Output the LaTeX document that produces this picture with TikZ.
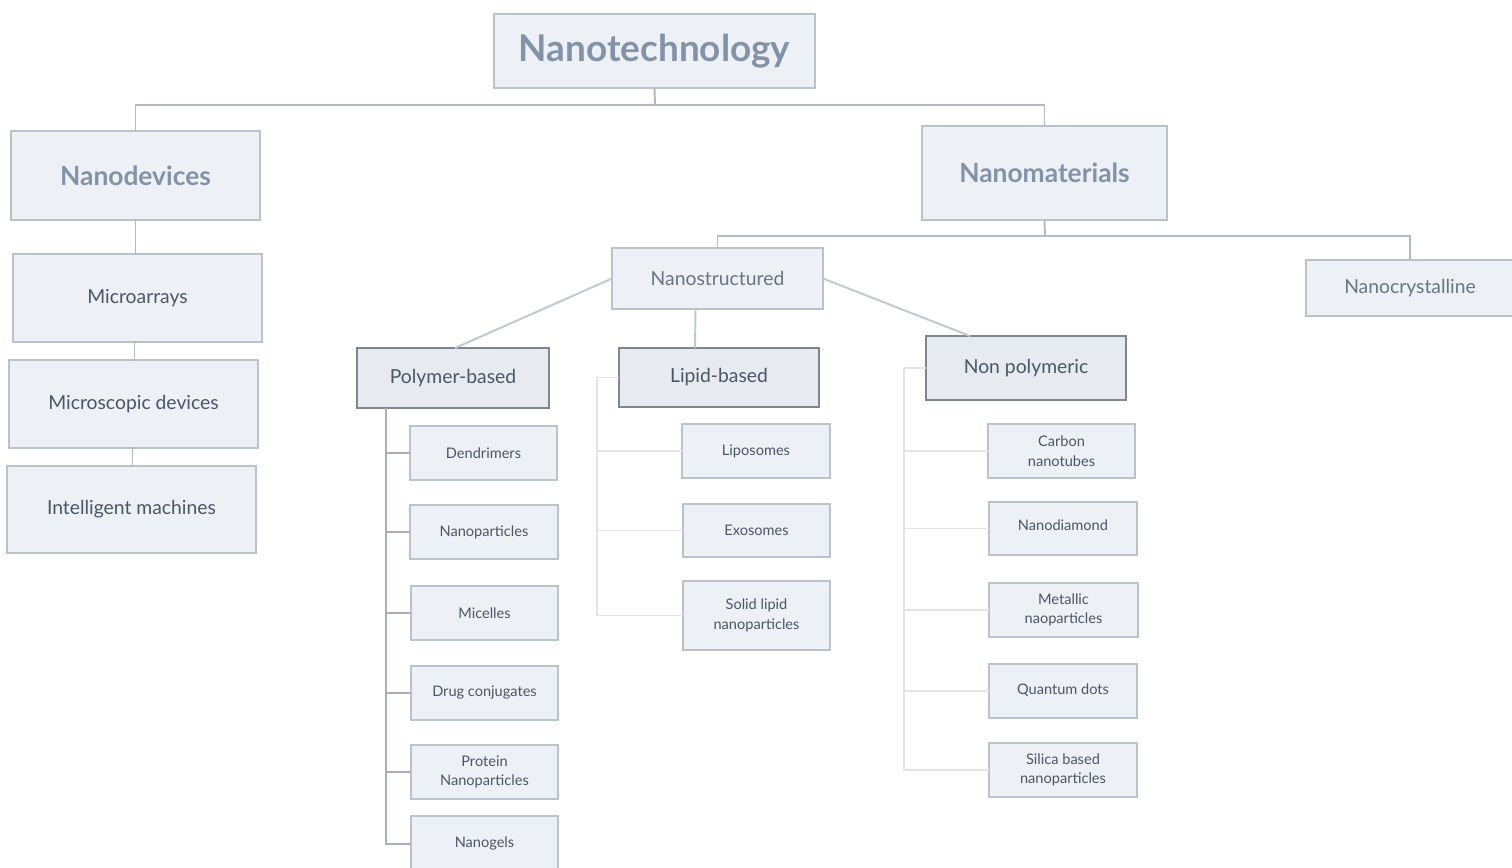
\documentclass[tikz,border=0pt]{standalone}
\usepackage{fontspec}
\setmainfont{Lato}
\definecolor{boxc}{HTML}{EDF0F4}
\definecolor{bordc}{HTML}{BCC2C9}
\definecolor{darkb}{HTML}{80868D}
\definecolor{darkfill}{HTML}{E7EAEE}
\definecolor{headc}{HTML}{8292A8}
\definecolor{txtc}{HTML}{4B5668}
\definecolor{lightt}{HTML}{6A7484}
\definecolor{linec}{HTML}{B2BAC2}
\definecolor{spinec}{HTML}{AAAFB5}
\definecolor{faintc}{HTML}{E2E4E6}
\begin{document}
\begin{tikzpicture}[x=0.02cm,y=-0.02cm,
  nbox/.style 2 args={draw=bordc, fill=boxc, line width=0.8pt,
    minimum width=#1*0.02cm, minimum height=#2*0.02cm, inner sep=0pt,
    outer sep=0pt, align=center, text=txtc},
  darkbox/.style={draw=darkb, fill=darkfill},
  headfont/.style={font=\fontsize{15}{18}\selectfont\bfseries, text=headc},
  midfont/.style={font=\fontsize{11}{13}\selectfont},
  smallfont/.style={font=\fontsize{8.3}{11.2}\selectfont},
  conn/.style={draw=linec, line width=1.1pt},
  spine/.style={draw=spinec, line width=0.9pt},
  faint/.style={draw=faintc, line width=0.8pt}]
\useasboundingbox[fill=white] (0,0) rectangle (1512,868);

% top level
\node[nbox={321}{74}, font=\fontsize{21}{25}\selectfont\bfseries, text=headc] (nt) at (654.5,51) {Nanotechnology};
\node[nbox={249}{89}, headfont] (nd) at (135.5,175.5) {Nanodevices};
\node[nbox={245}{94}, headfont] (nm) at (1044.5,173) {Nanomaterials};

% nanodevices
\node[nbox={249}{88}, midfont] (ma) at (137.5,298) {Microarrays};
\node[nbox={249}{88}, midfont] (md) at (133.5,404) {Microscopic devices};
\node[nbox={249}{87}, midfont] (im) at (131.5,509.5) {Intelligent machines};

% nanomaterials
\node[nbox={211}{61}, midfont, text=lightt] (ns) at (717.5,278.5) {Nanostructured};
\node[nbox={208}{56}, midfont, text=lightt] (nc) at (1410,288) {Nanocrystalline};

\node[nbox={192}{60}, darkbox, midfont] (pb) at (453,378) {Polymer-based};
\node[nbox={200}{59}, darkbox, midfont] (lb) at (719,377.5) {Lipid-based};
\node[nbox={200}{64}, darkbox, midfont] (np) at (1026,368) {Non polymeric};

% polymer children
\node[nbox={147}{54}, smallfont] (dn) at (483.5,453) {Dendrimers};
\node[nbox={148}{54}, smallfont] (npc) at (484,532) {Nanoparticles};
\node[nbox={147}{54}, smallfont] (mc) at (484.5,613) {Micelles};
\node[nbox={147}{54}, smallfont] (dc) at (484.5,693) {Drug conjugates};
\node[nbox={147}{54}, smallfont] (pn) at (484.5,772) {Protein\\Nanoparticles};
\node[nbox={147}{56}, smallfont] (ngl) at (484.5,844) {\raisebox{2pt}{Nanogels}};

% lipid children
\node[nbox={148}{54}, smallfont] (lp) at (756,451) {\raisebox{1.5pt}{Liposomes}};
\node[nbox={147}{53}, smallfont] (ex) at (756.5,530.5) {Exosomes};
\node[nbox={147}{69}, smallfont] (sl) at (756.5,615.5) {Solid lipid\\nanoparticles};

% non polymeric children
\node[nbox={147}{54}, smallfont] (cn) at (1061.5,451) {Carbon\\nanotubes};
\node[nbox={148}{53}, smallfont] (ndm) at (1063,528.5) {\raisebox{3.5pt}{Nanodiamond}};
\node[nbox={149}{54}, smallfont] (mt) at (1063.5,610) {Metallic\\naoparticles};
\node[nbox={148}{54}, smallfont] (qd) at (1063,691) {\raisebox{2pt}{Quantum dots}};
\node[nbox={148}{54}, smallfont] (si) at (1063,770) {Silica based\\nanoparticles};

% connectors: top
\coordinate (b1) at (655,105);
\draw[conn] (nt.south) -- (b1);
\draw[conn] (nd.north) |- (b1) -| (nm.north);
\draw[conn] (nd.south) -- (nd.south |- ma.north);
\draw[conn] (ma.south) -- ++(-3,0) |- (md.north);
\draw[conn] (md.south) -- ++(-1,0) |- (im.north);

\coordinate (b2) at (1045,236);
\draw[conn] (nm.south) -- (b2);
\draw[conn] (ns.north) |- (b2) -| (nc.north);

% nanostructured branches
\draw[conn, draw=linec!80] (ns.west) -- ([xshift=2*0.02cm]pb.north);
\draw[conn, draw=linec!80] ([xshift=-22*0.02cm]ns.south) -- ([xshift=-24*0.02cm]lb.north);
\draw[conn, draw=linec!80] (ns.east) -- ([xshift=44*0.02cm]np.north west);

% polymer spine
\coordinate (ps) at ([xshift=29*0.02cm]pb.south west);
\foreach \c in {dn,npc,mc,dc,pn,ngl} \draw[spine] (ps) |- (\c.west);

% lipid spine
\coordinate (ls) at ([xshift=-22*0.02cm]lb.west);
\draw[faint] (lb.west) -- (ls);
\foreach \c in {lp,ex,sl} \draw[faint] (ls) |- (\c.west);

% non polymeric spine
\coordinate (nps) at ([xshift=-22*0.02cm]np.west);
\draw[faint] (np.west) -- (nps);
\foreach \c in {cn,ndm,mt,qd,si} \draw[faint] (nps) |- (\c.west);
\end{tikzpicture}
\end{document}
